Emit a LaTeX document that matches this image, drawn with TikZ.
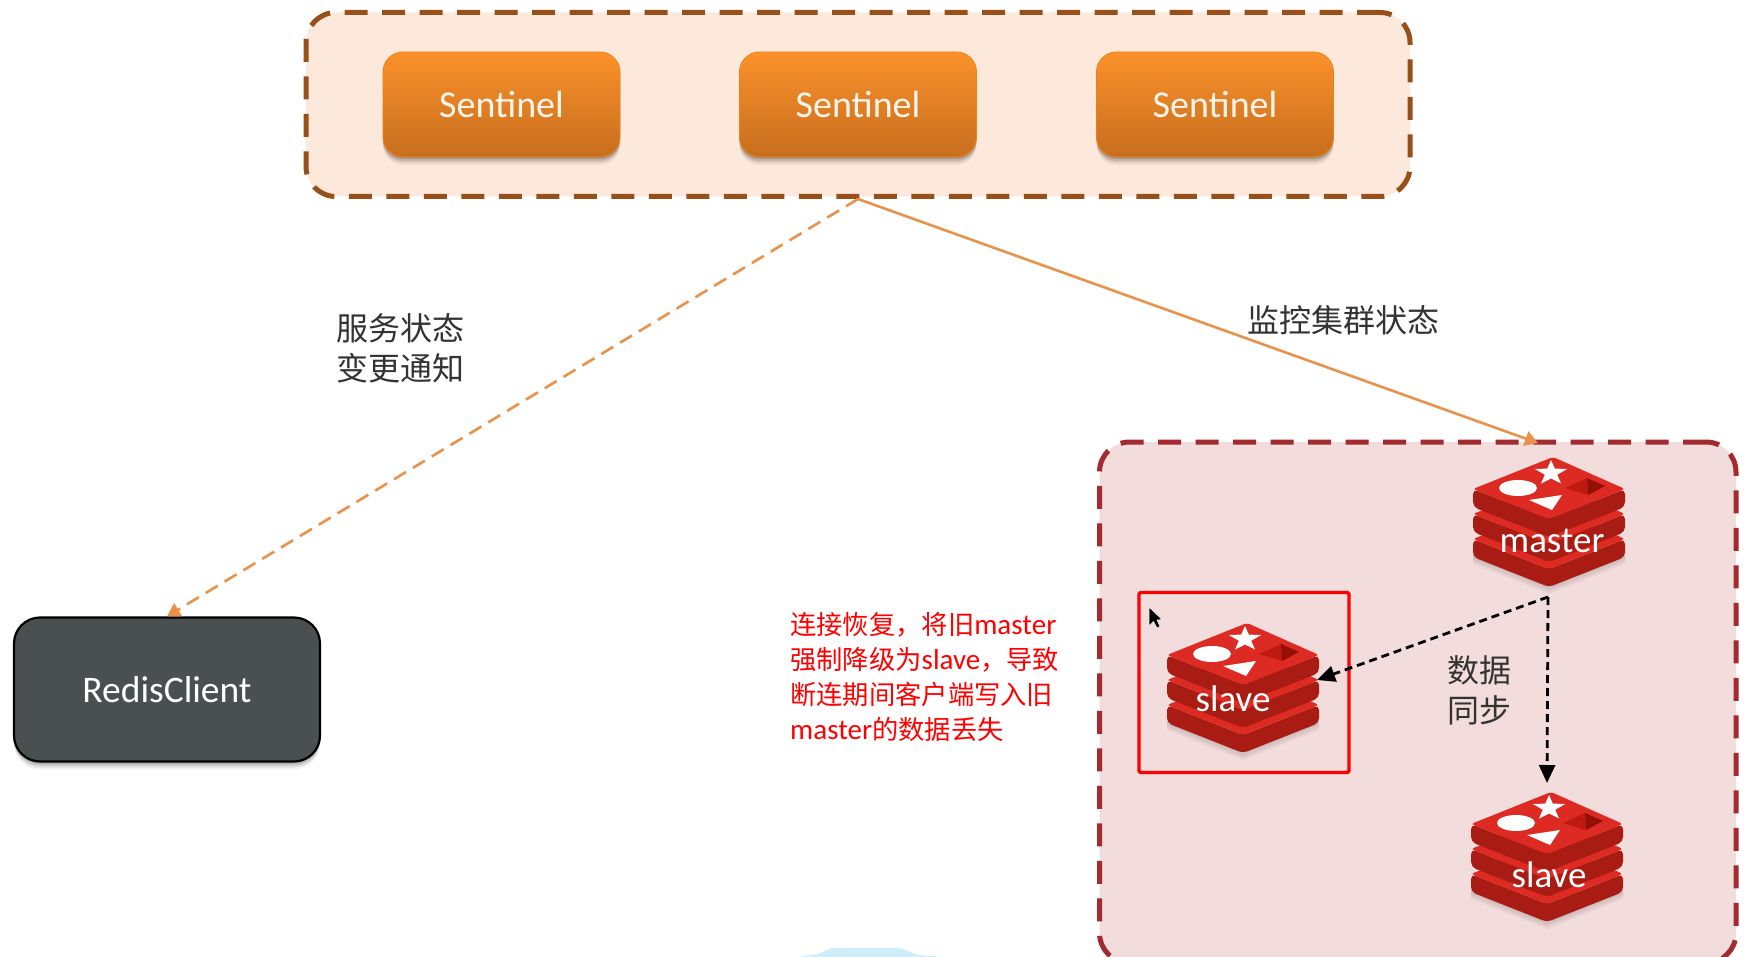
\documentclass[tikz,border=0pt]{standalone}
\usepackage{fontspec}
\setmainfont{Carlito}
\newfontfamily\cjk{Noto Sans CJK SC}
\usetikzlibrary{arrows.meta,shadows}
\definecolor{grpfill}{HTML}{FDE9DC}
\definecolor{grpline}{HTML}{97501A}
\definecolor{clufill}{HTML}{F3DCDC}
\definecolor{cluline}{HTML}{A32B30}
\definecolor{orTop}{HTML}{FB912B}
\definecolor{orBot}{HTML}{C66E1E}
\definecolor{cliFill}{HTML}{4A4F50}
\definecolor{conn}{HTML}{E8924C}
\definecolor{redLight}{HTML}{DD2A22}
\definecolor{redDark}{HTML}{A81C14}
\definecolor{redHole}{HTML}{BE1A10}
\definecolor{redHoleB}{HTML}{930F08}
\definecolor{blob}{HTML}{CDEEFB}
\definecolor{inkc}{HTML}{333333}
\tikzset{
  softshadow/.style={
    drop shadow={shadow xshift=0pt,shadow yshift=-8pt,opacity=.05,fill=black},
    drop shadow={shadow xshift=0pt,shadow yshift=-6pt,opacity=.08,fill=black},
    drop shadow={shadow xshift=0pt,shadow yshift=-4pt,opacity=.12,fill=black},
    drop shadow={shadow xshift=0pt,shadow yshift=-2pt,opacity=.15,fill=black}},
  groupbox/.style={draw,line width=#1,dash pattern=on 23pt off 14.5pt,rounded corners=30pt,inner sep=0pt},
  sentbox/.style={rounded corners=20pt,minimum width=237pt,minimum height=105pt,inner sep=0pt,
    top color=orTop,bottom color=orBot,draw=orange!75!brown,line width=.8pt,softshadow,
    text=white!92!orange,font=\fontsize{38}{40}\selectfont},
  clientbox/.style={rounded corners=26pt,minimum width=306pt,minimum height=144pt,inner sep=0pt,
    fill=cliFill,draw=black,line width=2.2pt,softshadow,text=white,font=\fontsize{37.5}{40}\selectfont},
  iconbox/.style={minimum width=152pt,minimum height=130pt,inner sep=0pt},
  iconlabel/.style={inner sep=0pt,text=white,font=\fontsize{37}{40}\selectfont},
  cjklabel/.style={inner sep=0pt,align=center,text=inkc,font=\cjk\fontsize{32}{40}\selectfont},
  notelabel/.style={inner sep=0pt,align=left,anchor=north west,text=red,font=\fontsize{29}{35}\selectfont},
  markbox/.style={draw=red,line width=3.4pt,rounded corners=1.5pt,minimum width=210pt,minimum height=180pt,inner sep=0pt},
  orangelink/.style={draw=conn,line width=2.6pt,-{Triangle[length=13pt,width=15pt]}},
  synclink/.style={draw=black,line width=2.8pt,dash pattern=on 8pt off 5pt,-{Triangle[length=18pt,width=16pt]}},
  stackface/.style={fill=redLight,rounded corners=3pt},
  stackside/.style={fill=redDark,rounded corners=5pt},
}
\newcommand{\notecjk}{\cjk\fontsize{26.3}{35}\selectfont}
\newcommand{\stacklayer}[1]{%
  \fill[stackside] (-76,32+#1) -- (0,62+#1) -- (76,32+#1) -- (76,50+#1) -- (0,80+#1) -- (-76,50+#1) -- cycle;
  \fill[stackface] (-76,32+#1) -- (4,0+#1) -- (76,32+#1) -- (0,62+#1) -- cycle;
}
\newcommand{\redisicon}[2]{%
  \begin{scope}[shift={(#1,#2)}]
    \foreach \d in {1,3,5,7}{\fill[black,opacity=.04] (-76,86) -- (0,120+\d) -- (76,86) -- (76,100+\d) -- (0,130+\d) -- (-76,100+\d) -- cycle;}
    \stacklayer{50}
    \stacklayer{25}
    \stacklayer{0}
    \fill[white] (-31,31) ellipse [x radius=19,y radius=8];
    \fill[white] (2,3) -- (5.8,11.6) -- (18.2,12) -- (8.2,17.7) -- (12,26.5) -- (2,21.5) -- (-8,26.5) -- (-4.2,17.7) -- (-14.2,12) -- (-1.8,11.6) -- cycle;
    \fill[white] (-20,43) -- (13,38) -- (3,53) -- cycle;
    \fill[redHole] (16,31) -- (38,21) -- (39,38) -- cycle;
    \fill[redHoleB] (38,21) -- (56,29) -- (39,38) -- cycle;
  \end{scope}
}
\begin{document}
\begin{tikzpicture}[x=1pt,y=-1pt]
\useasboundingbox (0,0) rectangle (1752,957);
\fill[white] (0,0) rectangle (1752,957);
% top group
\node[groupbox=5pt,draw=grpline,fill=grpfill,minimum width=1104pt,minimum height=184pt] (topgroup) at (858,104.5) {};
\node[sentbox] (sentA) at (501.5,104.5) {Sentinel};
\node[sentbox] (sentB) at (858,104.5) {Sentinel};
\node[sentbox] (sentC) at (1215,104.5) {Sentinel};
% cluster group
\node[groupbox=5pt,draw=cluline,fill=clufill,minimum width=636.5pt,minimum height=521pt] (cluster) at (1417.75,702.5) {};
% blob at the bottom edge
\fill[blob] (797,957) -- (818,954) -- (832,948) -- (900,948) -- (918,955) -- (942,957) -- cycle;
% client
\node[clientbox] (client) at (167,689.5) {RedisClient};
% red marker
\node[markbox] (mark) at (1244,682.5) {};
% icons
\node[iconbox] (master) at (1549,522) {};
\redisicon{1549}{457}
\node[iconlabel] (masterlabel) at (1552,541) {master};
\node[iconbox] (slaveA) at (1243,688) {};
\redisicon{1243}{623}
\node[iconlabel] (slaveAlabel) at (1233,699) {slave};
\node[iconbox] (slaveB) at (1547,857) {};
\redisicon{1547}{792}
\node[iconlabel] (slaveBlabel) at (1549,875) {slave};
% connector ends
\coordinate (monitorEnd) at (1538,443);
\coordinate (syncFrom) at (1548,597);
\coordinate (syncLeft) at (1317,680);
\coordinate (syncDown) at (1547,783);
\draw[orangelink,dash pattern=on 14pt off 8pt] (topgroup.south) -- (client.north);
\draw[orangelink] (topgroup.south) -- (monitorEnd);
\draw[synclink] (syncFrom) -- (syncLeft);
\draw[synclink] (syncFrom) -- (syncDown);
% labels
\node[cjklabel] (notify) at (400,348.5) {服务状态\\变更通知};
\node[cjklabel] (monitor) at (1343,320) {监控集群状态};
\node[cjklabel] (sync) at (1479,690.5) {数据\\同步};
\node[notelabel] (note) at (790,612) {{\notecjk 连接恢复，将旧}master\\{\notecjk 强制降级为}slave{\notecjk ，导致}\\{\notecjk 断连期间客户端写入旧}\\master{\notecjk 的数据丢失}};
% mouse pointer
\fill[black,draw=white,line width=.5pt] (1149,607) -- (1149,626) -- (1153.5,621.5) -- (1157,628) -- (1160,626.5) -- (1157,620) -- (1162,619.5) -- cycle;
\end{tikzpicture}
\end{document}
